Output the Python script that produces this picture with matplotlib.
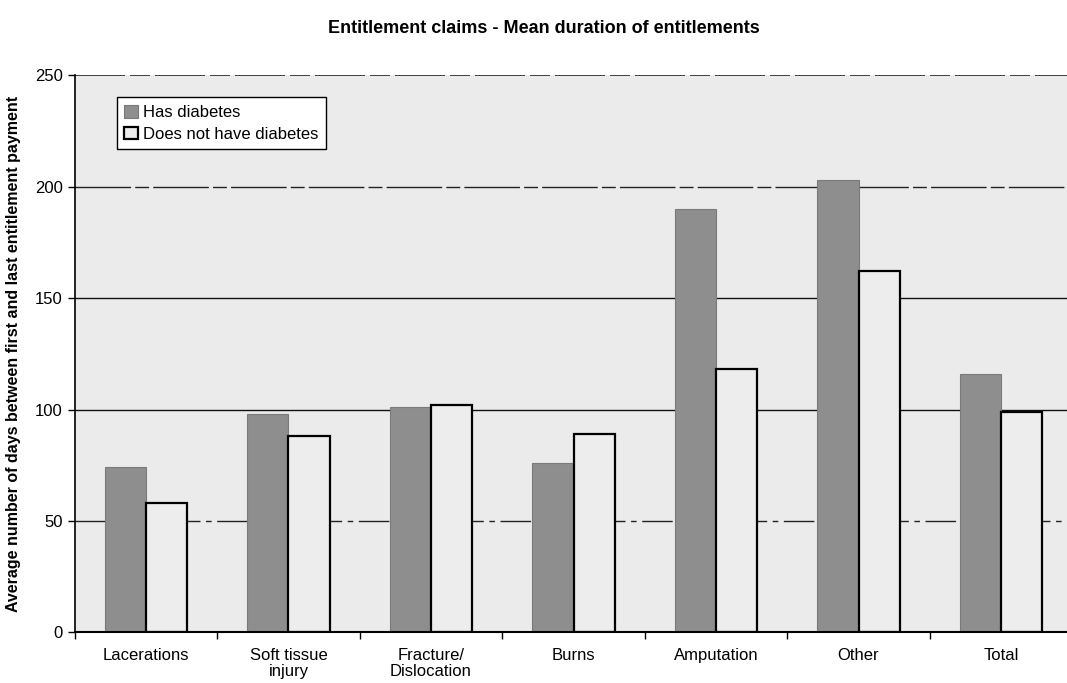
import matplotlib.pyplot as plt
import numpy as np

plt.rcParams['font.family'] = ['Liberation Sans', 'DejaVu Sans']

categories = ['Lacerations', 'Soft tissue\ninjury', 'Fracture/\nDislocation', 'Burns',
              'Amputation', 'Other', 'Total']
has_diabetes = [74, 98, 101, 76, 190, 203, 116]
no_diabetes = [58, 88, 102, 89, 118, 162, 99]

x = np.arange(len(categories))
w = 0.29

fig = plt.figure(figsize=(10.67, 6.83), dpi=100)
ax = fig.add_axes([0.070, 0.074, 0.935, 0.816])
ax.set_facecolor('#ebebeb')

# gridlines (the scan shows some as broken dashes)
ax.axhline(50, color='#222222', lw=1.0, ls=(0, (22, 4, 4, 4)), zorder=1)
for yv in [100, 150]:
    ax.axhline(yv, color='#111111', lw=1.0, zorder=1)
ax.axhline(200, color='#222222', lw=1.0, ls=(0, (40, 3, 10, 3)), zorder=1)
ax.axhline(250, color='#222222', lw=1.2, ls=(0, (30, 3, 12, 3)), zorder=1)

ax.bar(x - w / 2, has_diabetes, w, color='#8e8e8e', edgecolor='#7a7a7a', lw=0.8,
       label='Has diabetes', zorder=2)
ax.bar(x + w / 2, no_diabetes, w, color='#ededed', edgecolor='black', lw=1.6,
       label='Does not have diabetes', zorder=2)

ax.set_xlim(-0.5, len(categories) - 0.5)
ax.set_ylim(0, 250)
ax.set_yticks([0, 50, 100, 150, 200, 250])
ax.tick_params(axis='y', labelsize=12, length=5, width=1, direction='out')

# category labels at centres, tick marks between groups
ax.set_xticks(np.arange(len(categories) + 1) - 0.5)
ax.set_xticklabels([])
ax.set_xticks(x, minor=True)
ax.set_xticklabels(categories, minor=True, fontsize=12, linespacing=1.1)
ax.tick_params(axis='x', which='major', length=5, width=1, direction='out')
ax.tick_params(axis='x', which='minor', length=0, pad=11)

for side in ['top', 'right']:
    ax.spines[side].set_visible(False)
ax.spines['left'].set_linewidth(1.2)
ax.spines['bottom'].set_linewidth(1.5)

ax.set_ylabel('Average number of days between first and last entitlement payment',
              fontsize=11.5, fontweight='bold', labelpad=10)
fig.suptitle('Entitlement claims - Mean duration of entitlements', x=0.51, y=0.97,
             fontsize=13, fontweight='bold')

leg = ax.legend(loc='upper left', bbox_to_anchor=(0.034, 0.975), fontsize=12,
                frameon=True, fancybox=False, handlelength=0.8, handleheight=0.8,
                handletextpad=0.3, borderpad=0.45, labelspacing=0.4)
leg.get_frame().set_edgecolor('black')
leg.get_frame().set_linewidth(1.0)
leg.get_frame().set_facecolor('white')
leg.get_frame().set_alpha(1)

fig.savefig('out.png', dpi=100)
